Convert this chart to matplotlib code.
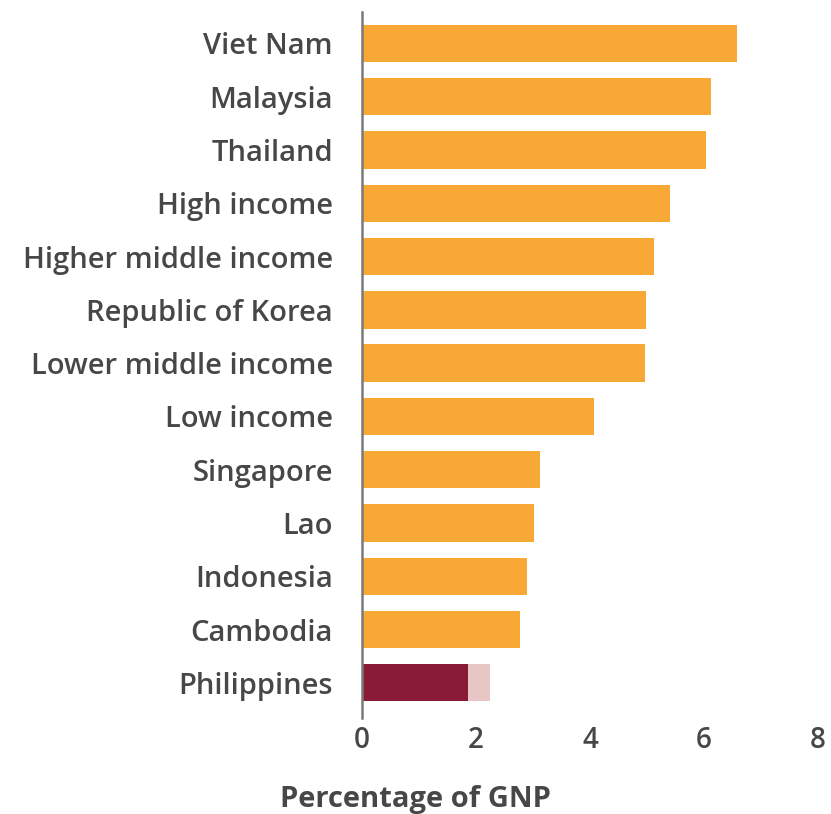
import matplotlib.pyplot as plt

# public spending on education, percentage of GNP
countries = ['Viet Nam', 'Malaysia', 'Thailand', 'High income',
             'Higher middle income', 'Republic of Korea',
             'Lower middle income', 'Low income', 'Singapore', 'Lao',
             'Indonesia', 'Cambodia', 'Philippines']
values = [6.58, 6.13, 6.03, 5.41, 5.13, 4.99, 4.96, 4.07, 3.12, 3.02,
          2.89, 2.77, 1.86]
# extra segment shown for the Philippines
ph_extra = 0.38

orange = '#F8A834'
dark_red = '#8A1B37'
light_red = '#E9C6C6'
text_col = '#474747'

plt.rcParams['font.family'] = ['Open Sans', 'DejaVu Sans']

fig = plt.figure(figsize=(8.31, 8.14), dpi=100)
ax = fig.add_axes([362 / 831, 96 / 814, (818 - 362) / 831, (718 - 12) / 814])

y = list(range(len(countries)))
colors = [orange] * (len(countries) - 1) + [dark_red]
ax.barh(y, values, height=0.7, color=colors)
ax.barh(y[-1], ph_extra, left=values[-1], height=0.7, color=light_red)

ax.set_xlim(0, 8)
ax.set_ylim(12.66, -0.59)
ax.set_yticks(y)
ax.set_yticklabels(countries, fontsize=21, color=text_col, fontweight='semibold')
ax.set_xticks([0, 2, 4, 6, 8])
ax.set_xticklabels(['0', '2', '4', '6', '8'], fontsize=20, color=text_col,
                   fontweight='semibold')
ax.tick_params(axis='y', length=0, pad=21)
ax.tick_params(axis='x', length=0, pad=6)

for s in ['top', 'right', 'bottom']:
    ax.spines[s].set_visible(False)
ax.spines['left'].set_color('#7a7a7a')
ax.spines['left'].set_linewidth(1.8)

fig.text(415 / 831, 1 - 800 / 814, 'Percentage of GNP', ha='center',
         va='center', fontsize=21, fontweight='bold', color=text_col)

fig.savefig('out.png', dpi=100)
